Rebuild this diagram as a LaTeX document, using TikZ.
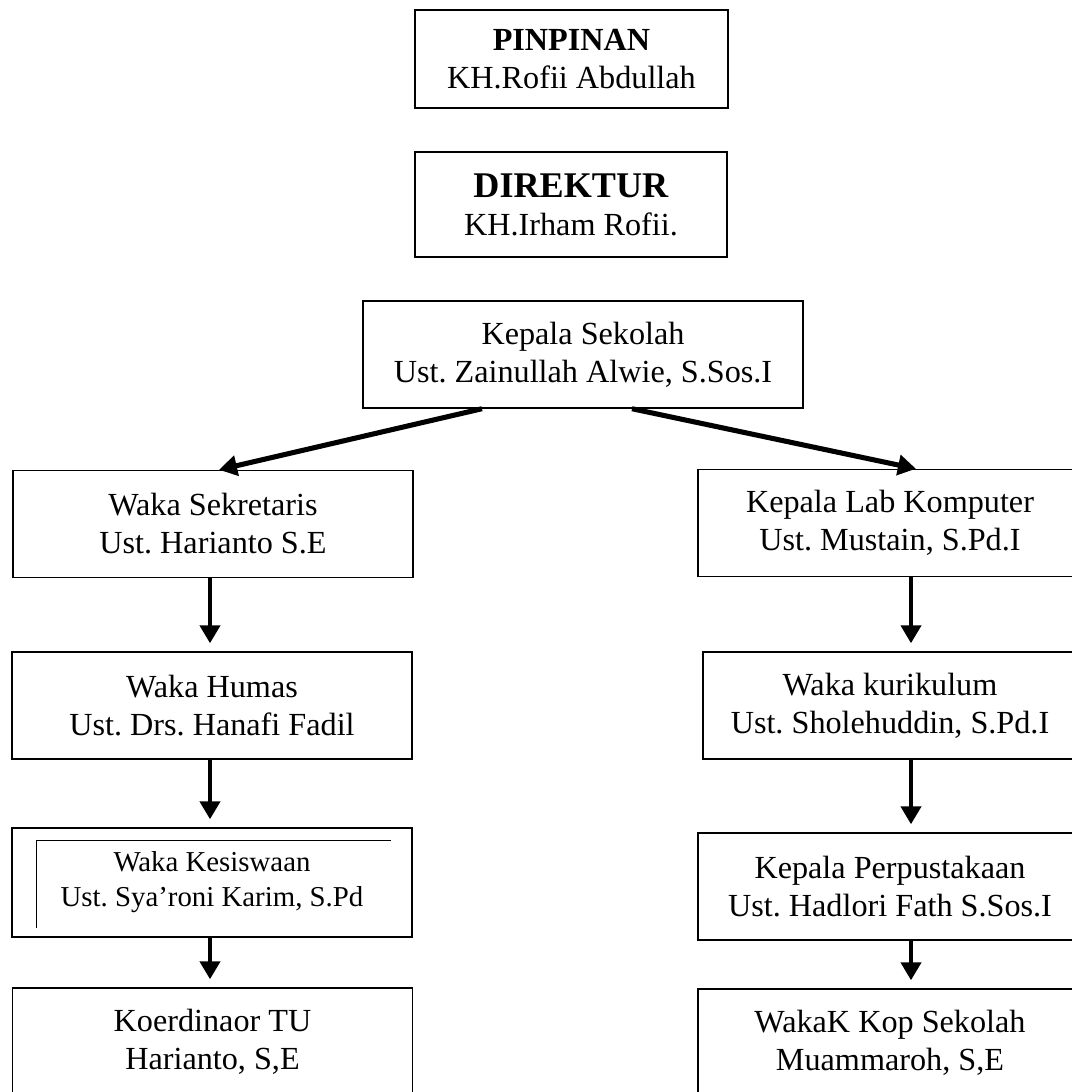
\documentclass[tikz,border=0pt]{standalone}
\usepackage{fontspec}
\setmainfont{Liberation Serif}
\usetikzlibrary{arrows.meta}
\tikzset{>=latex}
\frenchspacing

\begin{document}
\begin{tikzpicture}[x=0.025cm,y=-0.025cm,
  kotak/.style={draw,line width=1pt,align=center,inner sep=0pt,minimum height=2.675cm,font=\fontsize{22.9}{27}\selectfont},
  panah/.style={line width=3.6pt,-{Triangle[length=0.45cm,width=0.5cm]}},
  turun/.style={line width=3pt,-{Triangle[length=0.45cm,width=0.5cm]},shorten >=0.2cm}]
\useasboundingbox (0,0) rectangle (1072,1092);
\clip (0,0) rectangle (1072,1092);
% atas
\node (pinpinan) at (571.5,59)[kotak,minimum width=7.825cm,minimum height=2.45cm] {\textbf{PINPINAN}\\KH.Rofii Abdullah};
\node (direktur) at (571,204.5)[kotak,minimum width=7.8cm,minimum height=2.625cm] {{\fontsize{25.7}{30}\selectfont\textbf{DIREKTUR}}\\KH.Irham Rofii.};
\node (kepsek) at (583,354.5)[kotak,minimum width=11cm] {Kepala Sekolah\\Ust. Zainullah Alwie, S.Sos.I};
% kiri
\node (sekretaris) at (213,524)[kotak,minimum width=10cm] {Waka Sekretaris\\Ust. Harianto S.E};
\node (humas) at (212,705.5)[kotak,minimum width=10cm] {Waka Humas\\Ust. Drs. Hanafi Fadil};
\node (kesiswaan) at (212,882.5)[kotak,minimum width=10cm,minimum height=2.725cm,font=\fontsize{20.5}{24.8}\selectfont] {Waka Kesiswaan\\Ust. Sya'roni Karim, S.Pd};
\node (koordtu) at (212.5,1041.5)[kotak,minimum width=10cm] {Koerdinaor TU\\Harianto, S,E};
% kanan
\node (lab) at (890,523)[kotak,minimum width=9.6cm] {Kepala Lab Komputer\\Ust. Mustain, S.Pd.I};
\node (kurikulum) at (890,705.5)[kotak,minimum width=9.35cm] {Waka kurikulum\\Ust. Sholehuddin, S.Pd.I};
\node (perpus) at (890,886.5)[kotak,minimum width=9.6cm] {Kepala Perpustakaan\\Ust. Hadlori Fath S.Sos.I};
\node (kop) at (890,1042.5)[kotak,minimum width=9.6cm] {WakaK Kop Sekolah\\Muammaroh, S,E};
% garis dalam kesiswaan
\draw[line width=0.8pt] ([shift={(25,-10)}]kesiswaan.south west) -- ([shift={(25,13)}]kesiswaan.north west) -- ([shift={(-22,13)}]kesiswaan.north east);
% panah
\draw[panah] ([xshift=-2.525cm]kepsek.south) -- ([xshift=0.15cm]sekretaris.north);
\draw[panah] ([xshift=1.225cm]kepsek.south) -- ([xshift=0.65cm]lab.north);
\draw[turun] ([xshift=-0.075cm]sekretaris.south) -- ([xshift=-0.075cm]sekretaris.south |- humas.north);
\draw[turun] ([xshift=-0.05cm]humas.south) -- ([xshift=-0.05cm]humas.south |- kesiswaan.north);
\draw[turun] ([xshift=-0.05cm]kesiswaan.south) -- ([xshift=-0.05cm]kesiswaan.south |- koordtu.north);
\draw[turun] ([xshift=0.525cm]lab.south) -- ([xshift=0.525cm]lab.south |- kurikulum.north);
\draw[turun] ([xshift=0.525cm]kurikulum.south) -- ([xshift=0.525cm]kurikulum.south |- perpus.north);
\draw[turun] ([xshift=0.525cm]perpus.south) -- ([xshift=0.525cm]perpus.south |- kop.north);
\end{tikzpicture}
\end{document}
